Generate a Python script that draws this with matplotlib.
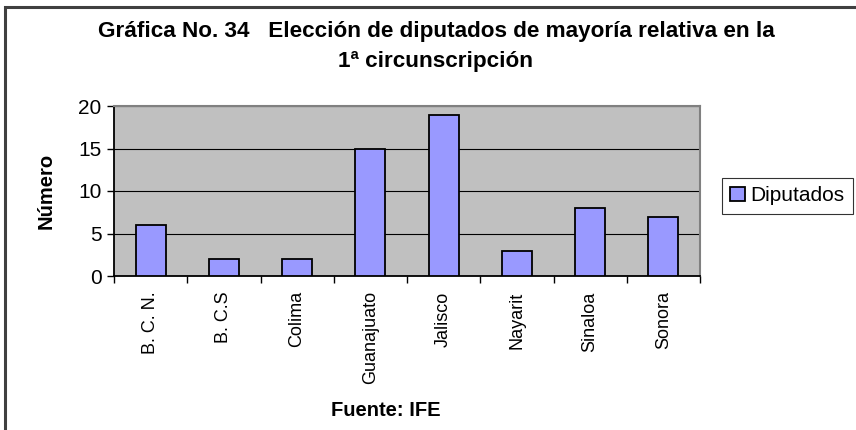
import matplotlib
matplotlib.use("Agg")
import matplotlib.pyplot as plt
from matplotlib.patches import Rectangle, Patch
import numpy as np

categories = ["B. C. N.", "B. C.S", "Colima", "Guanajuato", "Jalisco", "Nayarit", "Sinaloa", "Sonora"]
diputados = [6, 2, 2, 15, 19, 3, 8, 7]
yticks = [0, 5, 10, 15, 20]

plt.rcParams['font.family'] = ['Liberation Sans', 'DejaVu Sans']

W, H = 856, 430
fig = plt.figure(figsize=(W/100, H/100), dpi=100)

# outer frame (clipped at right/bottom)
fig.patches.append(Rectangle((5/W, -0.05), 1.1, 1 - 7/H + 0.05, transform=fig.transFigure,
                             fill=False, edgecolor='#404040', linewidth=2.2, zorder=0))

l, r, t, b = 114, 700, 106, 276
ax = fig.add_axes([l/W, 1 - b/H, (r-l)/W, (b-t)/H])
ax.set_facecolor('#C0C0C0')

x = np.arange(len(categories))
ax.bar(x, diputados, width=0.41, color='#9999FF', edgecolor='black', linewidth=1.3, zorder=3)

ax.set_xlim(-0.5, len(categories) - 0.5)
ax.set_ylim(0, 20)
ax.set_yticks(yticks)
ax.set_yticklabels([str(v) for v in yticks], fontsize=15)
ax.yaxis.grid(True, color='black', linewidth=0.8, zorder=1)
ax.set_axisbelow(True)

# ticks at category boundaries
ax.set_xticks(np.arange(len(categories) + 1) - 0.5)
ax.set_xticklabels([])
ax.set_xticks(x, minor=True)
ax.set_xticklabels(categories, minor=True, rotation=90, fontsize=13)
ax.tick_params(axis='x', which='minor', length=0, pad=11)
ax.tick_params(axis='x', which='major', length=5, width=1, color='black')
ax.tick_params(axis='y', length=5, width=1, pad=4)

for s in ['top', 'right']:
    ax.spines[s].set_color('#808080')
    ax.spines[s].set_linewidth(1.5)
for s in ['left', 'bottom']:
    ax.spines[s].set_color('black')
    ax.spines[s].set_linewidth(1.3)

ax.set_ylabel('Número', fontsize=14.5, fontweight='bold', labelpad=16)

fig.text(436/W, 1 - 32/H, 'Gráfica No. 34   Elección de diputados de mayoría relativa en la',
         ha='center', va='center', fontsize=16.2, fontweight='bold')
fig.text(436/W, 1 - 62/H, '1ª circunscripción',
         ha='center', va='center', fontsize=16.2, fontweight='bold')
fig.text(386/W, 1 - 410/H, 'Fuente: IFE', ha='center', va='center',
         fontsize=14.5, fontweight='bold')

leg = fig.legend(handles=[Patch(facecolor='#9999FF', edgecolor='black', linewidth=1.3, label='Diputados')],
                 loc='upper left', bbox_to_anchor=(722/W, 1 - 178/H), fontsize=15,
                 frameon=True, fancybox=False, borderpad=0.4, handlelength=0.7, handleheight=0.7,
                 handletextpad=0.25, borderaxespad=0)
leg.get_frame().set_edgecolor('black')
leg.get_frame().set_linewidth(0.8)

fig.savefig('out.png', dpi=100)
